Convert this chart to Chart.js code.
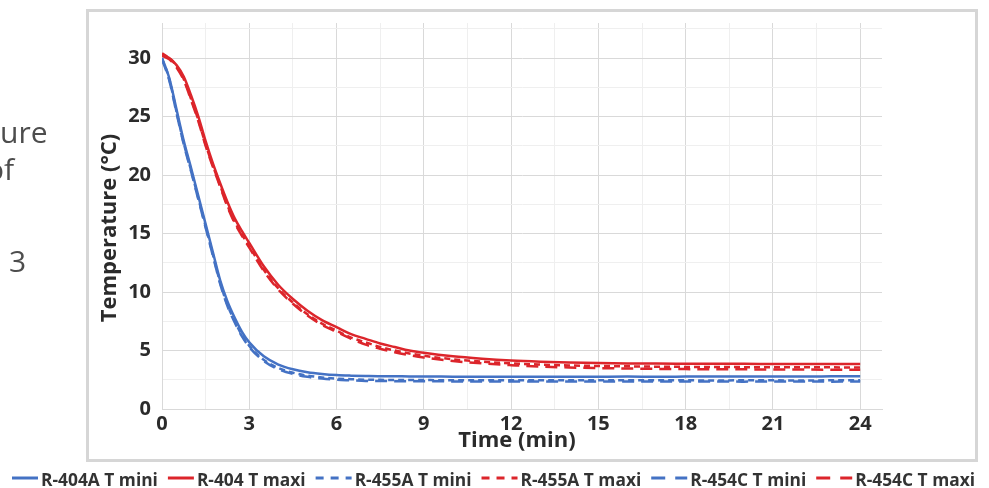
<!DOCTYPE html>
<html>
<head>
<meta charset="utf-8">
<script src="https://cdn.jsdelivr.net/npm/chart.js@4.4.0/dist/chart.umd.min.js"></script>
<style>
  html, body { margin: 0; padding: 0; background: #fff; }
  #wrap { position: relative; width: 989px; height: 488px; overflow: hidden; }
  #frame { position: absolute; left: 86px; top: 9px; width: 886px; height: 447px; border: 3px solid #d6d6d6; }
  canvas { position: absolute; left: 0; top: 0; }
</style>
</head>
<body>
<div id="wrap">
  <div id="frame"></div>
  <canvas id="chart" width="989" height="488"></canvas>
</div>
<script>
// time axis (min)
const times = [0, 0.25, 0.5, 0.75, 1, 1.25, 1.5, 1.75, 2, 2.25, 2.5, 2.75, 3, 3.5, 4, 4.5, 5, 5.5, 6, 6.5,
  7, 7.5, 8, 8.5, 9, 10, 11, 12, 13, 14, 15, 16, 17, 18, 19, 20, 21, 22, 23, 24];

// temperatures (°C)
const r404aMini = [30.0, 28.3, 25.6, 22.9, 20.6, 18.2, 15.8, 13.4, 11.0, 9.2, 7.8, 6.6, 5.7,
  4.5, 3.8, 3.4, 3.15, 3.0, 2.9, 2.85, 2.82, 2.8, 2.8, 2.78, 2.78,
  2.76, 2.75, 2.75, 2.76, 2.75, 2.76, 2.77, 2.76, 2.77, 2.78, 2.77, 2.78, 2.78, 2.79, 2.8];
const r404Maxi = [30.3, 30.0, 29.4, 28.4, 26.8, 25.0, 22.9, 21.0, 19.3, 17.7, 16.3, 15.2, 14.2,
  12.2, 10.6, 9.4, 8.4, 7.6, 7.0, 6.4, 6.0, 5.6, 5.3, 5.0, 4.8,
  4.5, 4.3, 4.15, 4.05, 3.98, 3.93, 3.9, 3.88, 3.87, 3.86, 3.86, 3.85, 3.85, 3.85, 3.85];
const r455aMini = [30.0, 28.2, 25.4, 22.7, 20.4, 18.0, 15.6, 13.2, 10.8, 8.9, 7.5, 6.3, 5.4,
  4.2, 3.5, 3.1, 2.85, 2.7, 2.6, 2.55, 2.5, 2.49, 2.48, 2.47, 2.47,
  2.46, 2.46, 2.45, 2.46, 2.45, 2.45, 2.46, 2.45, 2.45, 2.44, 2.45, 2.45, 2.44, 2.45, 2.45];
const r455aMaxi = [30.4, 30.0, 29.3, 28.2, 26.5, 24.7, 22.6, 20.8, 19.1, 17.4, 16.0, 14.9, 13.9,
  11.9, 10.3, 9.1, 8.1, 7.3, 6.7, 6.1, 5.7, 5.3, 5.0, 4.75, 4.55,
  4.25, 4.05, 3.9, 3.8, 3.72, 3.68, 3.65, 3.62, 3.6, 3.59, 3.58, 3.57, 3.56, 3.56, 3.55];
const r454cMini = [29.9, 28.1, 25.3, 22.6, 20.3, 17.9, 15.5, 13.1, 10.7, 8.8, 7.4, 6.2, 5.3,
  4.1, 3.4, 3.0, 2.75, 2.6, 2.5, 2.45, 2.4, 2.39, 2.38, 2.37, 2.37,
  2.36, 2.36, 2.35, 2.36, 2.35, 2.35, 2.35, 2.34, 2.35, 2.35, 2.34, 2.35, 2.35, 2.34, 2.35];
const r454cMaxi = [30.2, 29.9, 29.2, 28.1, 26.4, 24.6, 22.5, 20.7, 19.0, 17.3, 15.9, 14.8, 13.8,
  11.8, 10.2, 9.0, 8.0, 7.2, 6.6, 6.0, 5.5, 5.15, 4.85, 4.6, 4.4,
  4.1, 3.9, 3.75, 3.62, 3.55, 3.5, 3.46, 3.43, 3.41, 3.4, 3.39, 3.38, 3.37, 3.36, 3.35];

const seriesNames = ["R-404A T mini", "R-404 T maxi", "R-455A T mini", "R-455A T maxi", "R-454C T mini", "R-454C T maxi"];

// axis ticks
const xMajor = [0, 3, 6, 9, 12, 15, 18, 21, 24];
const xMinor = [1.5, 4.5, 7.5, 10.5, 13.5, 16.5, 19.5, 22.5];
const yMajor = [0, 5, 10, 15, 20, 25, 30];
const yMinor = [2.5, 7.5, 12.5, 17.5, 22.5, 27.5, 32.5];

const xTitle = "Time (min)";
const yTitle = "Temperature (°C)";

const BLUE = "#4472c4";
const RED = "#dc252b";
const INK = "#2b2b2b";

function pts(vals) {
  return times.map((t, i) => ({ x: t, y: vals[i] }));
}

function ds(label, vals, color, dash) {
  return {
    label: label,
    data: pts(vals),
    borderColor: color,
    backgroundColor: color,
    borderWidth: 2.5,
    borderDash: dash,
    pointRadius: 0,
    cubicInterpolationMode: "monotone",
    fill: false,
  };
}

const datasets = [
  ds(seriesNames[0], r404aMini, BLUE, []),
  ds(seriesNames[1], r404Maxi, RED, []),
  ds(seriesNames[2], r455aMini, BLUE, [6, 4]),
  ds(seriesNames[3], r455aMaxi, RED, [6, 4]),
  ds(seriesNames[4], r454cMini, BLUE, [12, 7]),
  ds(seriesNames[5], r454cMaxi, RED, [12, 7]),
];

function gridColor(major) {
  return (ctx) => (ctx.tick && major.includes(ctx.tick.value) ? "#d9d9d9" : "#efefef");
}

// bits of the surrounding document, axis titles and the bottom legend
const pagePlugin = {
  id: "page",
  beforeDraw(chart) {
    const c = chart.ctx;
    c.save();
    c.fillStyle = "#4d4d4d";
    c.font = "30px 'Open Sans'";
    c.textBaseline = "alphabetic";
    c.fillText("ure", 0, 143);
    c.fillText("of", -14, 180);
    c.fillText("3", 9, 272);
    c.restore();
  },
  afterDraw(chart) {
    const c = chart.ctx;
    const area = chart.chartArea;
    c.save();
    // axis titles
    c.fillStyle = INK;
    c.font = "bold 22px 'Open Sans'";
    c.textAlign = "center";
    c.textBaseline = "middle";
    c.fillText(xTitle, area.left + (area.right - area.left) * 0.493, area.bottom + 32);
    c.save();
    c.translate(110, (area.top + area.bottom) / 2 + 12);
    c.rotate(-Math.PI / 2);
    c.fillText(yTitle, 0, 0);
    c.restore();

    // legend
    c.textAlign = "left";
    c.textBaseline = "alphabetic";
    c.font = "bold 18px 'Open Sans'";
    const items = chart.data.datasets;
    const lineLen = items.map((d) => (d.borderDash.length ? 36 : 26));
    const widths = items.map((d) => c.measureText(d.label).width);
    const gapIn = 3, gapOut = 10, start = 12, end = 975;
    const fixed = lineLen.reduce((a, b) => a + b, 0) + items.length * gapIn + (items.length - 1) * gapOut;
    const k = (end - start - fixed) / widths.reduce((a, b) => a + b, 0);
    let x = start;
    const yLine = 478;
    items.forEach((d, i) => {
      c.strokeStyle = d.borderColor;
      c.lineWidth = 3;
      c.setLineDash(d.borderDash.length ? [d.borderDash[0] + 2, d.borderDash[1] + 3] : []);
      c.beginPath();
      c.moveTo(x, yLine);
      c.lineTo(x + lineLen[i], yLine);
      c.stroke();
      x += lineLen[i] + gapIn;
      c.setLineDash([]);
      c.fillStyle = "#333333";
      const w = widths[i] * k;
      c.fillText(d.label, x, 486, w);
      x += w + gapOut;
    });
    c.restore();
  },
};

const tickFont = { family: "'Open Sans'", size: 20, weight: "bold" };

new Chart(document.getElementById("chart").getContext("2d"), {
  type: "line",
  data: { datasets: datasets },
  options: {
    responsive: false,
    animation: false,
    layout: { padding: { left: 0, top: 13, right: 107, bottom: 0 } },
    plugins: { legend: { display: false }, tooltip: { enabled: false } },
    scales: {
      x: {
        type: "linear",
        min: 0,
        max: 24.75,
        afterBuildTicks: (s) => { s.ticks = xMajor.concat(xMinor).sort((a, b) => a - b).map((v) => ({ value: v })); },
        afterFit: (s) => { s.height = 79; },
        ticks: {
          autoSkip: false,
          maxRotation: 0,
          padding: 3,
          color: INK,
          font: tickFont,
          callback: (v) => (xMajor.includes(v) ? String(v) : ""),
        },
        grid: { color: gridColor(xMajor), drawTicks: false, lineWidth: 1 },
        border: { color: "#d9d9d9" },
      },
      y: {
        min: 0,
        max: 33,
        afterBuildTicks: (s) => { s.ticks = yMajor.concat(yMinor).sort((a, b) => a - b).map((v) => ({ value: v })); },
        afterFit: (s) => { s.width = 162; },
        ticks: {
          autoSkip: false,
          padding: 11,
          color: INK,
          font: tickFont,
          callback: (v) => (yMajor.includes(v) ? String(v) : ""),
        },
        grid: { color: gridColor(yMajor), drawTicks: false, lineWidth: 1 },
        border: { color: "#d9d9d9" },
      },
    },
  },
  plugins: [pagePlugin],
});
</script>
</body>
</html>
